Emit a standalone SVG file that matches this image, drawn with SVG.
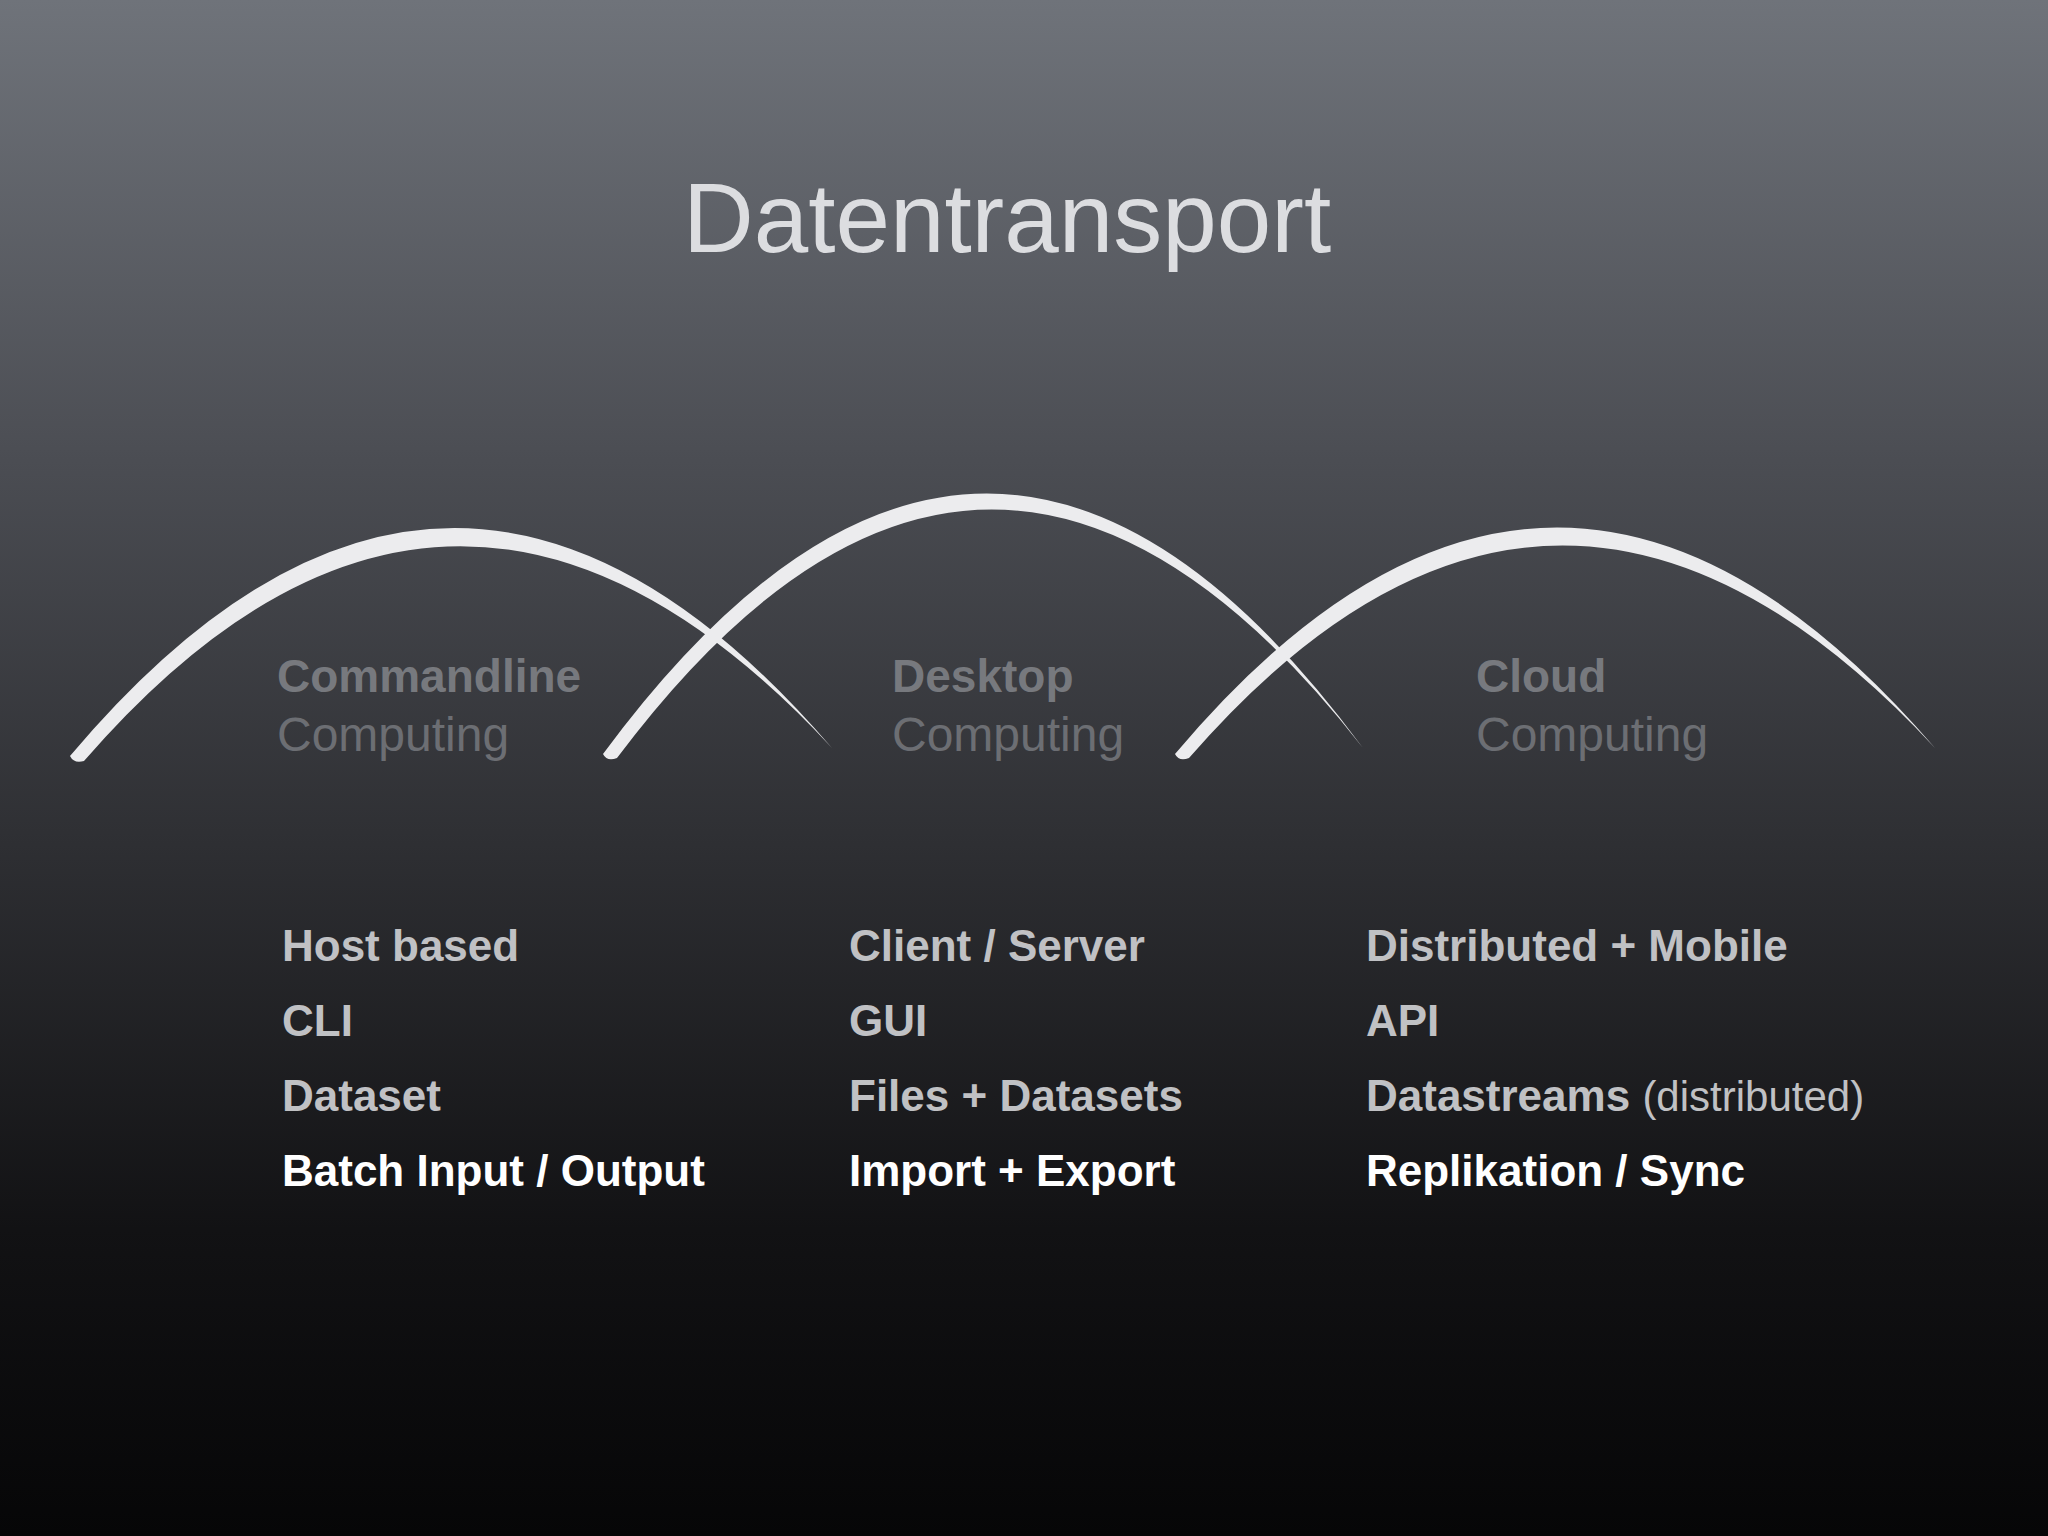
<svg xmlns="http://www.w3.org/2000/svg" width="2048" height="1536" viewBox="0 0 2048 1536">
<defs>
<linearGradient id="bg" x1="0" y1="0" x2="0" y2="1">
<stop offset="0" stop-color="#6f737a"/>
<stop offset="0.3" stop-color="#4b4d53"/>
<stop offset="0.55" stop-color="#2e2f33"/>
<stop offset="0.8" stop-color="#121214"/>
<stop offset="1" stop-color="#060607"/>
</linearGradient>
</defs>
<style>
.t{font-family:"Liberation Sans",Arial,sans-serif}
.h{font-size:46px;font-weight:bold;fill:#77797e}
.s{font-size:48px;fill:#6c6e73}
.l{font-size:44px;font-weight:bold;fill:#c0c1c4}
.n{font-weight:normal}
.w{fill:#ffffff}
.arc{fill:#ececee}
</style>
<rect width="2048" height="1536" fill="url(#bg)"/>
<text class="t" x="1007" y="252" text-anchor="middle" font-size="98" fill="#dcdde0">Datentransport</text>
<g id="connectors">
<path class="arc" d="M70,756 Q451,304 832,748 Q451,338 84,761 Q74,764 70,756 Z"/>
<path class="arc" d="M603,754 Q986,236 1363,748 Q986,266 617,758 Q607,762 603,754 Z"/>
<path class="arc" d="M1175,754 Q1554,304 1935,748 Q1554,338 1189,758 Q1179,762 1175,754 Z"/>
</g>
<g id="commandline" class="t">
<text class="h" x="277" y="692">Commandline</text>
<text class="s" x="277" y="751">Computing</text>
<text class="l" x="282" y="961">Host based</text>
<text class="l" x="282" y="1036">CLI</text>
<text class="l" x="282" y="1111">Dataset</text>
<text class="l w" x="282" y="1186">Batch Input / Output</text>
</g>
<g id="desktop" class="t">
<text class="h" x="892" y="692">Desktop</text>
<text class="s" x="892" y="751">Computing</text>
<text class="l" x="849" y="961">Client / Server</text>
<text class="l" x="849" y="1036">GUI</text>
<text class="l" x="849" y="1111">Files + Datasets</text>
<text class="l w" x="849" y="1186">Import + Export</text>
</g>
<g id="cloud" class="t">
<text class="h" x="1476" y="692">Cloud</text>
<text class="s" x="1476" y="751">Computing</text>
<text class="l" x="1366" y="961">Distributed + Mobile</text>
<text class="l" x="1366" y="1036">API</text>
<text class="l" x="1366" y="1111">Datastreams <tspan class="n" font-size="42">(distributed)</tspan></text>
<text class="l w" x="1366" y="1186">Replikation / Sync</text>
</g>
</svg>
